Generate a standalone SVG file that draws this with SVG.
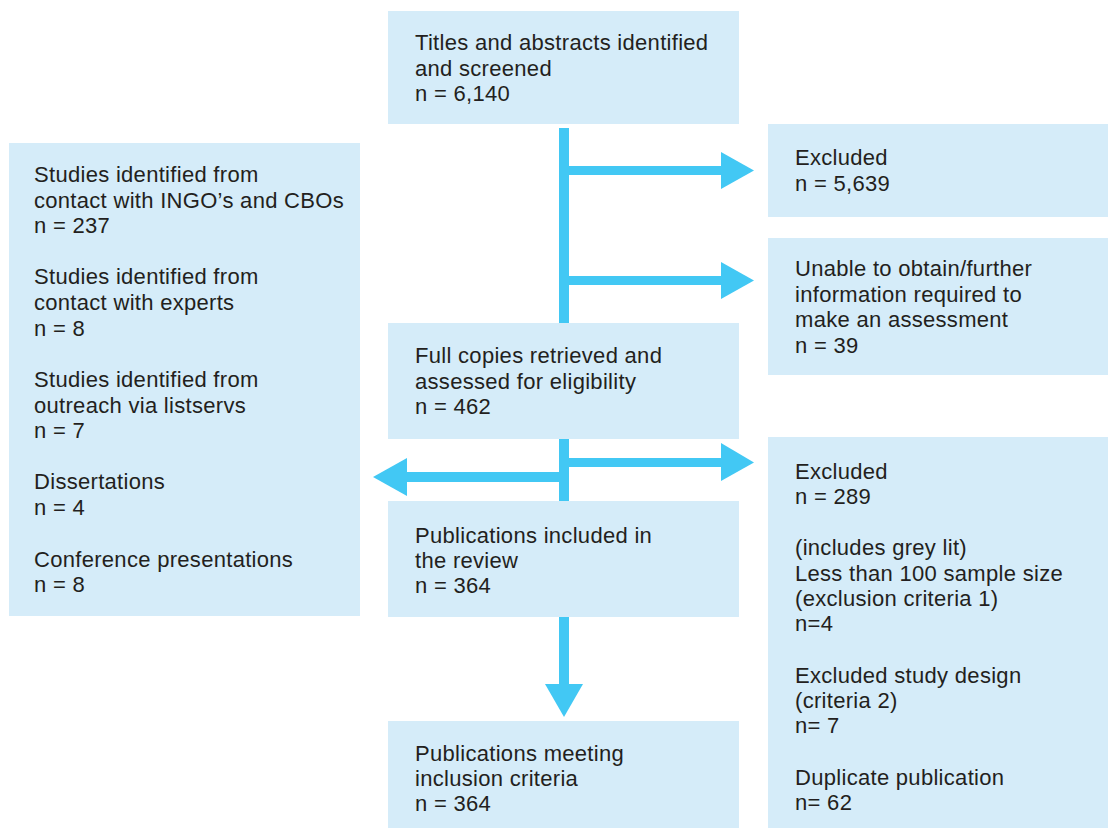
<svg xmlns="http://www.w3.org/2000/svg" width="1108" height="828" viewBox="0 0 1108 828">
<style>
.box{fill:#d5ecf9}
.t{font-family:"Liberation Sans",Arial,sans-serif;font-size:22px;fill:#231f20;letter-spacing:0.3px}
.ar{fill:#42c8f4}
</style>
<rect width="1108" height="828" fill="#ffffff"/>
<g id="connectors">
<rect class="ar" x="559" y="128" width="10" height="195"/>
<rect class="ar" x="569" y="166" width="153" height="9"/>
<polygon class="ar" points="721,152 754,170.5 721,189"/>
<rect class="ar" x="569" y="276" width="153" height="9"/>
<polygon class="ar" points="721,262 754,280.5 721,299"/>
<rect class="ar" x="559" y="439" width="10" height="62"/>
<rect class="ar" x="569" y="458" width="153" height="9"/>
<polygon class="ar" points="721,443 754,462.5 721,481"/>
<rect class="ar" x="406" y="472" width="153" height="10"/>
<polygon class="ar" points="407,458 373,477 407,496"/>
<rect class="ar" x="559" y="617" width="10" height="68"/>
<polygon class="ar" points="545,684 583,684 564,717"/>
</g>
<g id="n_titles">
<rect class="box" x="388" y="11" width="351" height="113"/>
<text class="t" x="415" y="50">Titles and abstracts identified</text>
<text class="t" x="415" y="75.5">and screened</text>
<text class="t" x="415" y="101">n = 6,140</text>
</g>
<g id="n_excluded1">
<rect class="box" x="768" y="124" width="340" height="93"/>
<text class="t" x="795" y="165">Excluded</text>
<text class="t" x="795" y="191">n = 5,639</text>
</g>
<g id="n_unable">
<rect class="box" x="768" y="238" width="340" height="137"/>
<text class="t" x="795" y="276">Unable to obtain/further</text>
<text class="t" x="795" y="301.5">information required to</text>
<text class="t" x="795" y="327">make an assessment</text>
<text class="t" x="795" y="352.5">n = 39</text>
</g>
<g id="n_sources">
<rect class="box" x="9" y="143" width="351" height="473"/>
<text class="t" x="34" y="182">Studies identified from</text>
<text class="t" x="34" y="207.5">contact with INGO’s and CBOs</text>
<text class="t" x="34" y="233">n = 237</text>
<text class="t" x="34" y="284">Studies identified from</text>
<text class="t" x="34" y="310">contact with experts</text>
<text class="t" x="34" y="335.5">n = 8</text>
<text class="t" x="34" y="387">Studies identified from</text>
<text class="t" x="34" y="412.5">outreach via listservs</text>
<text class="t" x="34" y="438">n = 7</text>
<text class="t" x="34" y="489">Dissertations</text>
<text class="t" x="34" y="515">n = 4</text>
<text class="t" x="34" y="566.5">Conference presentations</text>
<text class="t" x="34" y="592">n = 8</text>
</g>
<g id="n_fullcopies">
<rect class="box" x="388" y="323" width="351" height="116"/>
<text class="t" x="415" y="363">Full copies retrieved and</text>
<text class="t" x="415" y="389">assessed for eligibility</text>
<text class="t" x="415" y="414">n = 462</text>
</g>
<g id="n_included">
<rect class="box" x="388" y="501" width="351" height="116"/>
<text class="t" x="415" y="542.5">Publications included in</text>
<text class="t" x="415" y="568">the review</text>
<text class="t" x="415" y="593">n = 364</text>
</g>
<g id="n_excluded2">
<rect class="box" x="768" y="437" width="340" height="391"/>
<text class="t" x="795" y="479">Excluded</text>
<text class="t" x="795" y="504">n = 289</text>
<text class="t" x="795" y="555">(includes grey lit)</text>
<text class="t" x="795" y="580.5">Less than 100 sample size</text>
<text class="t" x="795" y="606">(exclusion criteria 1)</text>
<text class="t" x="795" y="631">n=4</text>
<text class="t" x="795" y="682.5">Excluded study design</text>
<text class="t" x="795" y="708">(criteria 2)</text>
<text class="t" x="795" y="733">n= 7</text>
<text class="t" x="795" y="785">Duplicate publication</text>
<text class="t" x="795" y="810">n= 62</text>
</g>
<g id="n_meeting">
<rect class="box" x="388" y="721" width="351" height="107"/>
<text class="t" x="415" y="761">Publications meeting</text>
<text class="t" x="415" y="786">inclusion criteria</text>
<text class="t" x="415" y="811">n = 364</text>
</g>
</svg>
